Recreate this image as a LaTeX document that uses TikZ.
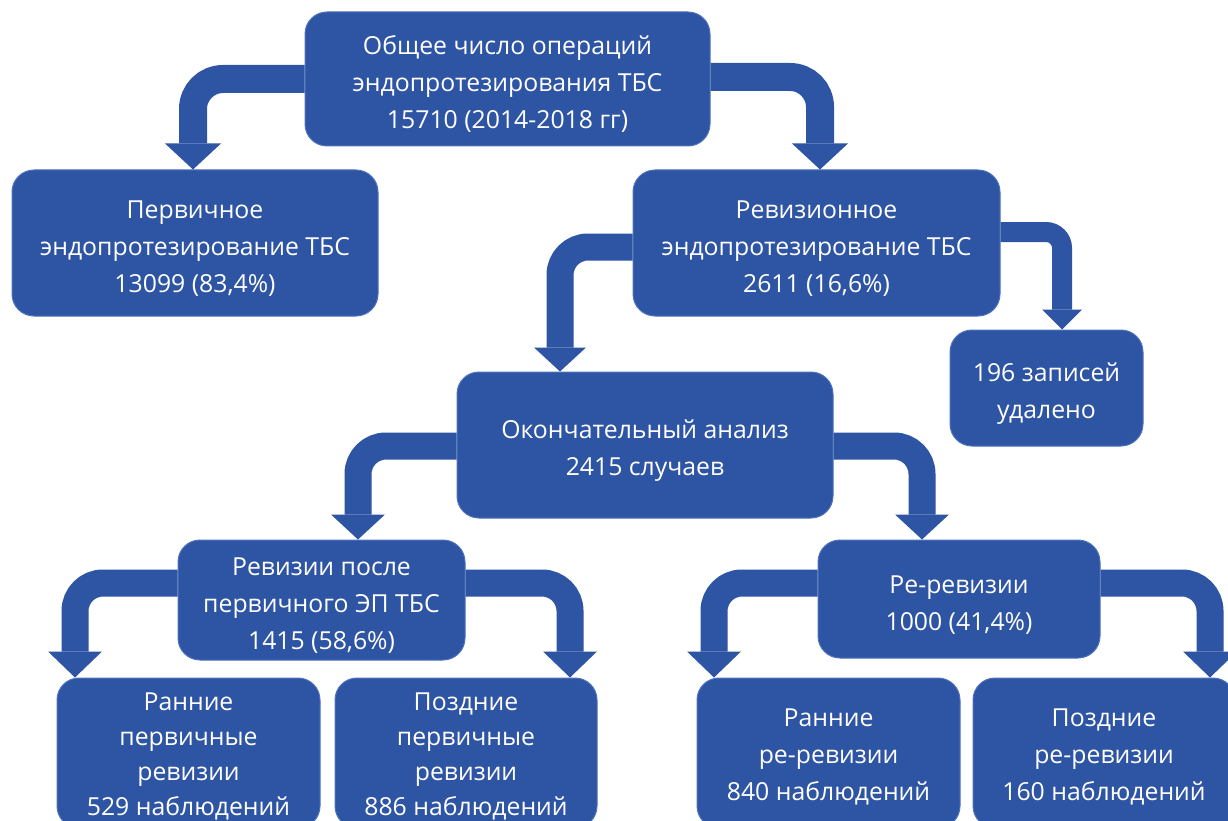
\documentclass[tikz,border=0pt]{standalone}
\usepackage{fontspec}
\setmainfont{Open Sans}
\usetikzlibrary{calc}
\definecolor{boxblue}{RGB}{46,84,164}
\definecolor{boxedge}{RGB}{78,114,188}
\newcommand\firstln{\rule{0pt}{29pt}}
\newcommand\firstlnb{\rule{0pt}{26pt}}
\newcommand\firstlnc{\rule{0pt}{24pt}}
\tikzset{
  box/.style={rectangle, rounded corners=22pt, fill=boxblue, draw=boxedge, line width=1pt,
    text=white, align=center, inner sep=0pt, font=\fontsize{24.8}{37}\selectfont},
  tallbox/.style={box, font=\fontsize{24.8}{35}\selectfont},
}
% #1 start, #2 tip, #3 half shaft width, #4 half head width, #5 head length, #6 centre-line radius
\newcommand\bentarrow[6]{%
  \draw[boxblue, line width=2*#3pt, rounded corners=#6pt] #1 -| ($#2+(0,-#5)$);
  \fill[boxblue] ($#2+(-#4,-#5)$) -- #2 -- ($#2+(#4,-#5)$) -- cycle;
}
\begin{document}
\begin{tikzpicture}[x=1pt,y=-1pt]
\useasboundingbox (0,0) rectangle (1228,821);
\fill[white] (0,0) rectangle (1228,821);
\clip (0,0) rectangle (1228,821);

\node[box, minimum width=405pt, minimum height=134pt] (top) at (507.5,79)
  {\firstln Общее число операций\\эндопротезирования ТБС\\15710 (2014-2018 гг)};
\node[box, minimum width=366pt, minimum height=146pt] (prim) at (195,243)
  {\firstln Первичное\\эндопротезирование ТБС\\13099 (83,4\%)};
\node[box, minimum width=367pt, minimum height=146pt] (rev) at (816.5,243)
  {\firstln Ревизионное\\эндопротезирование ТБС\\2611 (16,6\%)};
\node[box, minimum width=193pt, minimum height=116pt] (del) at (1046.5,388)
  {\firstln 196 записей\\удалено};
\node[box, minimum width=376pt, minimum height=146pt] (final) at (645,445)
  {\firstln Окончательный анализ\\2415 случаев};
\node[box, minimum width=287pt, minimum height=120pt] (after) at (321.5,600)
  {\firstln Ревизии после\\первичного ЭП ТБС\\1415 (58,6\%)};
\node[box, minimum width=282pt, minimum height=118pt] (rerev) at (959,599)
  {\firstln Ре-ревизии\\1000 (41,4\%)};
\node[tallbox, minimum width=263pt, minimum height=150pt] (early1) at (188.5,753)
  {\firstlnc Ранние\\первичные\\ревизии\\529 наблюдений};
\node[tallbox, minimum width=262pt, minimum height=150pt] (late1) at (466,753)
  {\firstlnc Поздние\\первичные\\ревизии\\886 наблюдений};
\node[box, minimum width=263pt, minimum height=150pt] (early2) at (828.5,753)
  {\firstlnb Ранние\\ре-ревизии\\840 наблюдений};
\node[box, minimum width=262pt, minimum height=150pt] (late2) at (1104,753)
  {\firstlnb Поздние\\ре-ревизии\\160 наблюдений};

\bentarrow{(top.west |- 0,79)}{(193,0 |- prim.north)}{14}{28}{26}{30}
\bentarrow{(top.east |- 0,77)}{(820,0 |- rev.north)}{14}{28}{26}{30}
\bentarrow{(rev.east |- 0,232)}{(1062,0 |- del.north)}{10}{20}{20}{16}
\bentarrow{(rev.west |- 0,247)}{(560,0 |- final.north)}{13.5}{26}{24}{28}
\bentarrow{(final.west |- 0,446)}{(358,0 |- after.north)}{13.5}{27}{25}{28}
\bentarrow{(final.east |- 0,446)}{(922,0 |- rerev.north)}{13.5}{27}{25}{28}
\bentarrow{(after.west |- 0,583)}{(75,0 |- early1.north)}{13.5}{27}{26}{28}
\bentarrow{(after.east |- 0,583)}{(570,0 |- late1.north)}{13.5}{27}{26}{28}
\bentarrow{(rerev.west |- 0,583)}{(714,0 |- early2.north)}{13.5}{27}{26}{28}
\bentarrow{(rerev.east |- 0,583)}{(1210,0 |- late2.north)}{13.5}{27}{26}{28}
\end{tikzpicture}
\end{document}
